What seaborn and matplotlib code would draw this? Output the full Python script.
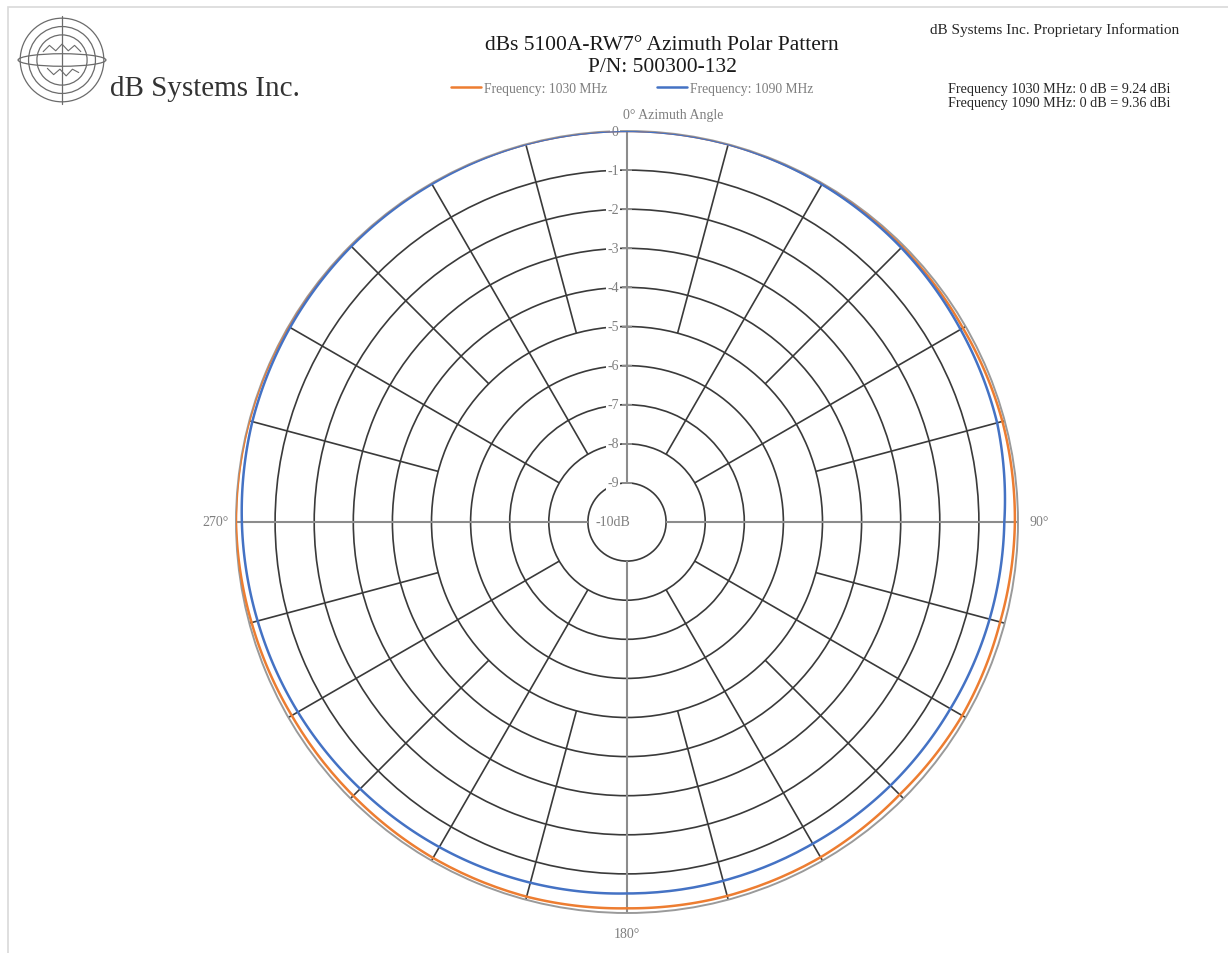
import numpy as np
import pandas as pd
import matplotlib
matplotlib.use("Agg")
import matplotlib.pyplot as plt
from matplotlib.patches import Circle, Ellipse, Rectangle
import seaborn as sns

# azimuth angles (deg) and relative gain (dB)
angles_deg = [0, 15, 30, 45, 60, 75, 90, 105, 120, 135, 150, 165,
              180, 195, 210, 225, 240, 255, 270, 285, 300, 315, 330, 345, 360]
gain_1030 = [0.0, 0.0, -0.02, -0.05, -0.08, -0.06, -0.08, -0.12, -0.10, -0.14, -0.10, -0.10,
             -0.12, -0.08, -0.08, -0.10, -0.10, -0.06, 0.0, 0.0, 0.0, 0.0, 0.0, 0.0, 0.0]
gain_1090 = [0.0, 0.0, -0.03, -0.08, -0.15, -0.20, -0.35, -0.40, -0.45, -0.47, -0.50, -0.50,
             -0.50, -0.45, -0.40, -0.35, -0.28, -0.22, -0.15, -0.08, -0.05, -0.03, -0.02, 0.0, 0.0]
series_names = ["Frequency: 1030 MHz", "Frequency: 1090 MHz"]
series_colors = ["#ED7D31", "#4472C4"]

ring_levels = [-9, -8, -7, -6, -5, -4, -3, -2, -1]
ring_labels = ["0", "-1", "-2", "-3", "-4", "-5", "-6", "-7", "-8", "-9"]
spoke_deg = list(range(0, 360, 15))
angle_ticks = [90, 180, 270]
angle_labels = ["90°", "180°", "270°"]

df = pd.concat([
    pd.DataFrame({"theta": np.deg2rad(angles_deg), "gain": gain_1030, "series": series_names[0]}),
    pd.DataFrame({"theta": np.deg2rad(angles_deg), "gain": gain_1090, "series": series_names[1]}),
])

sns.set_theme(style="white")
plt.rcParams["font.family"] = ["Liberation Serif", "DejaVu Serif"]

W, H = 1228, 954
fig = plt.figure(figsize=(W / 100, H / 100), dpi=100)

# chart frame (light border, top and left visible)
fig.patches.append(Rectangle((8 / W, -0.1), 1.2, 1.1 - 8 / H, transform=fig.transFigure,
                             fill=False, edgecolor="#d9d9d9", lw=1.2))

cx, cy, R = 627, 523, 391
ax = fig.add_axes([(cx - R) / W, (H - cy - R) / H, 2 * R / W, 2 * R / H], projection="polar")
ax.set_theta_zero_location("N")
ax.set_theta_direction(-1)

sns.lineplot(data=df, x="theta", y="gain", hue="series", palette=series_colors,
             ax=ax, linewidth=1.8, sort=False, zorder=5)
# draw the segments as arcs in polar space instead of chords
for line in ax.lines:
    line.get_path()._interpolation_steps = 60
handles, labels = ax.get_legend_handles_labels()
ax.get_legend().remove()
ax.set_xlabel("")
ax.set_ylabel("")

ax.set_ylim(-10, 0)
ax.set_yticks(ring_levels)
ax.set_yticklabels([])
ax.yaxis.grid(True, color="#3a3a3a", lw=1.2)
ax.xaxis.grid(False)
ax.spines["polar"].set_color("#9a9a9a")
ax.spines["polar"].set_linewidth(1.4)

# spokes: main axes from -9, 30-degree spokes from -8, the rest from -5
for a in spoke_deg:
    if a % 90 == 0:
        ax.vlines(np.deg2rad(a), -9, 0, color="#8c8c8c", lw=1.5, zorder=2)
    elif a % 30 == 0:
        ax.vlines(np.deg2rad(a), -8, 0, color="#3a3a3a", lw=1.2, zorder=2)
    else:
        ax.vlines(np.deg2rad(a), -5, 0, color="#3a3a3a", lw=1.2, zorder=2)

# value axis labels and ticks along 0 degrees
label_box = dict(boxstyle="square,pad=0.1", fc="white", ec="none")
for i, lbl in enumerate(ring_labels):
    ax.plot(0, -i, marker="_", ms=7, mew=1.2, color="#8c8c8c", zorder=3)
    ax.annotate(lbl, xy=(0, -i), xytext=(-6, 0), textcoords="offset points",
                ha="right", va="center", fontsize=10, color="#7f7f7f", bbox=label_box, zorder=4)
ax.annotate("-10dB", xy=(0, -10), xytext=(2, 0), textcoords="offset points",
            ha="right", va="center", fontsize=10, color="#7f7f7f", zorder=4)
ax.annotate("0° Azimuth Angle", xy=(0, 0), xytext=(-3, 12), textcoords="offset points",
            ha="left", va="center", fontsize=10, color="#7f7f7f", annotation_clip=False)

ax.set_xticks(np.deg2rad(angle_ticks))
ax.set_xticklabels(angle_labels, fontsize=10, color="#7f7f7f")
ax.tick_params(axis="x", pad=2)

# titles and notes
fig.text(662 / W, 1 - 45 / H, "dBs 5100A-RW7° Azimuth Polar Pattern", ha="center", va="center",
         fontsize=15.5, color="#1a1a1a")
fig.text(662 / W, 1 - 68 / H, "P/N: 500300-132", ha="center", va="center",
         fontsize=15.5, color="#1a1a1a")
fig.text(1055 / W, 1 - 30 / H, "dB Systems Inc. Proprietary Information", ha="center", va="center",
         fontsize=11, color="#262626")
fig.text(948 / W, 1 - 90 / H, "Frequency 1030 MHz: 0 dB = 9.24 dBi", ha="left", va="center",
         fontsize=10.2, color="#262626")
fig.text(948 / W, 1 - 104 / H, "Frequency 1090 MHz: 0 dB = 9.36 dBi", ha="left", va="center",
         fontsize=10.2, color="#262626")
fig.legend(handles, labels, loc="center", bbox_to_anchor=(632 / W, 1 - 89 / H), ncol=2,
           frameon=False, fontsize=9.8, labelcolor="#7f7f7f", handlelength=2.2,
           handletextpad=0.2, columnspacing=3.7)

# company logo
lax = fig.add_axes([(62 - 46) / W, (H - 61 - 46) / H, 92 / W, 92 / H])
lax.set_xlim(-1.1, 1.1)
lax.set_ylim(-1.1, 1.1)
lax.set_aspect("equal")
lax.axis("off")
for rr in [1.0, 0.8, 0.6]:
    lax.add_patch(Circle((0, 0), rr, fill=False, ec="#6b6b6b", lw=0.9))
lax.plot([0, 0], [-1.05, 1.05], color="#6b6b6b", lw=0.9)
lax.add_patch(Ellipse((0, 0), 2.1, 0.3, fill=False, ec="#6b6b6b", lw=0.9))
lax.plot([-0.45, -0.3, -0.15, 0.0, 0.15, 0.3, 0.45], [0.2, 0.35, 0.22, 0.38, 0.22, 0.35, 0.2],
         color="#6b6b6b", lw=0.8)
lax.plot([-0.35, -0.2, -0.05, 0.1, 0.25, 0.4], [-0.2, -0.35, -0.22, -0.38, -0.22, -0.3],
         color="#6b6b6b", lw=0.8)
fig.text(110 / W, 1 - 89 / H, "dB Systems Inc.", ha="left", va="center", fontsize=21, color="#333333")

fig.savefig("out.png", dpi=100)
